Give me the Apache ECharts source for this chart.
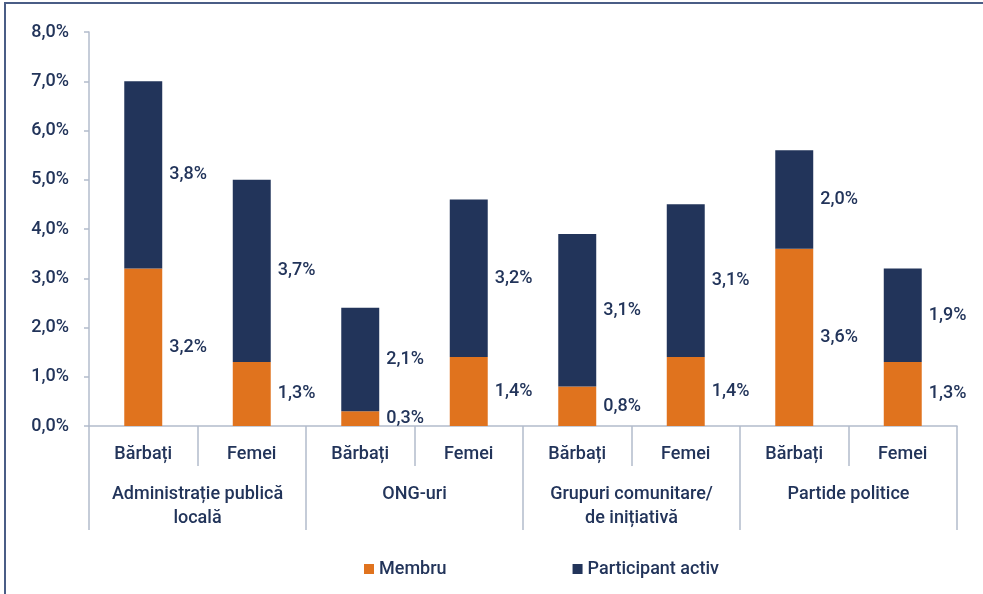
<!DOCTYPE html>
<html>
<head>
<meta charset="utf-8">
<script src="https://cdn.jsdelivr.net/npm/echarts@6/dist/echarts.min.js"></script>
<style>
  html, body { margin: 0; padding: 0; background: #fff; }
  #chart { width: 983px; height: 594px; }
  #frame {
    position: absolute; left: 4px; top: 2px; right: 0; bottom: 0;
    border-top: 2px solid #4a5d86; border-left: 2px solid #4a5d86;
    pointer-events: none;
  }
</style>
</head>
<body>
<div id="chart"></div>
<div id="frame"></div>
<script>
// sub-categories (gender) and their parent groups
const genders = ['Bărbați', 'Femei', 'Bărbați', 'Femei', 'Bărbați', 'Femei', 'Bărbați', 'Femei'];
const groups = ['Administrație publică\nlocală', 'ONG-uri', 'Grupuri comunitare/\nde inițiativă', 'Partide politice'];
const seriesNames = ['Membru', 'Participant activ'];
const membru = [3.2, 1.3, 0.3, 1.4, 0.8, 1.4, 3.6, 1.3];
const participant = [3.8, 3.7, 2.1, 3.2, 3.1, 3.1, 2.0, 1.9];
const yTicks = [0, 1, 2, 3, 4, 5, 6, 7, 8];

const textColor = '#22345a';
const axisColor = '#b3bccc';
const font = 'Roboto';
const fs = 18;

const fmt = v => v.toFixed(1).replace('.', ',') + '%';

const chart = echarts.init(document.getElementById('chart'));

const labelCfg = {
  show: true,
  position: 'right',
  distance: 7,
  color: textColor,
  fontFamily: font,
  fontSize: fs,
  fontWeight: 500,
  formatter: p => fmt(p.value)
};

chart.setOption({
  animation: false,
  textStyle: { fontFamily: font },
  grid: { left: 89, right: 26, top: 32, bottom: 168 },
  legend: {
    data: seriesNames,
    left: 359,
    top: 555,
    itemWidth: 10,
    itemHeight: 10,
    itemGap: 126,
    icon: 'rect',
    textStyle: { color: textColor, fontSize: fs, fontWeight: 500, fontFamily: font }
  },
  xAxis: [
    {
      type: 'category',
      data: genders,
      position: 'bottom',
      axisLine: { show: true, lineStyle: { color: axisColor, width: 1.5 } },
      axisTick: { show: true, length: 40, interval: 0, lineStyle: { color: axisColor, width: 1.5 } },
      axisLabel: {
        interval: 0, margin: 19, color: textColor,
        fontSize: fs, fontWeight: 500, fontFamily: font
      }
    },
    {
      type: 'category',
      data: groups,
      position: 'bottom',
      axisLine: { show: false },
      axisTick: { show: true, length: 104, interval: 0, lineStyle: { color: axisColor, width: 1.5 } },
      axisLabel: {
        interval: 0, margin: 56, color: textColor, lineHeight: 24,
        fontSize: fs, fontWeight: 500, fontFamily: font
      }
    }
  ],
  yAxis: {
    type: 'value',
    min: yTicks[0],
    max: yTicks[yTicks.length - 1],
    interval: 1,
    axisLine: { show: true, lineStyle: { color: axisColor, width: 1.5 } },
    axisTick: { show: true, length: 5, lineStyle: { color: axisColor, width: 1.5 } },
    splitLine: { show: false },
    axisLabel: {
      margin: 20, color: textColor,
      fontSize: fs, fontWeight: 500, fontFamily: font,
      formatter: v => fmt(v)
    }
  },
  series: [
    {
      name: seriesNames[0],
      type: 'bar',
      stack: 'total',
      xAxisIndex: 0,
      barWidth: '35%',
      data: membru,
      itemStyle: { color: '#e0731e' },
      label: labelCfg
    },
    {
      name: seriesNames[1],
      type: 'bar',
      stack: 'total',
      xAxisIndex: 0,
      barWidth: '35%',
      data: participant,
      itemStyle: { color: '#22345a' },
      label: labelCfg
    }
  ]
});
</script>
</body>
</html>
